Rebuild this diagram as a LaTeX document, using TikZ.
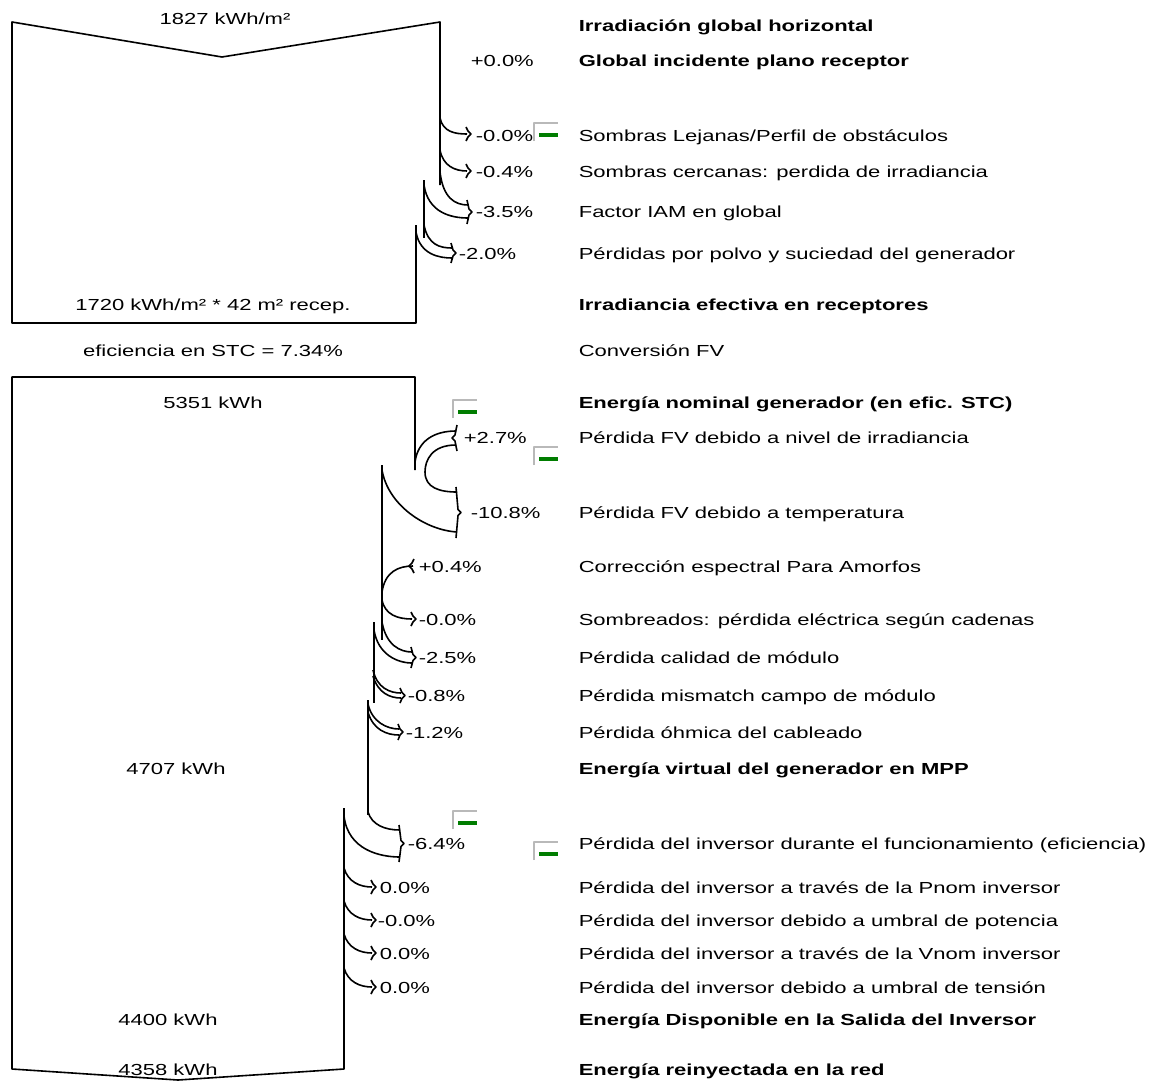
\documentclass[tikz,border=0pt]{standalone}
\usepackage{fontspec}
\setmainfont{Liberation Sans}[FakeStretch=1.375]
\usepackage{tikz}
\definecolor{btngreen}{RGB}{0,125,0}
\definecolor{btngray}{RGB}{185,185,185}

\newcommand{\losshead}[3]{% x, top, bottom
  \draw (#1-1,#2) -- (#1+1,{(#2+#3)/2-3}) -- (#1+4,{(#2+#3)/2}) -- (#1+1,{(#2+#3)/2+3}) -- (#1-1,#3);}
\newcommand{\gainhead}[3]{% x, top, bottom
  \draw (#1+1,#2) -- (#1-1,{(#2+#3)/2-3}) -- (#1-4,{(#2+#3)/2}) -- (#1-1,{(#2+#3)/2+3}) -- (#1+1,#3);}
\newcommand{\minusbtn}[2]{% top left corner
  \draw[btngray,line width=0.9pt] (#1,#2+18) -- (#1,#2) -- (#1+24,#2);
  \draw[btngreen,line width=1.6pt] (#1+5,#2+12) -- (#1+24,#2+12);}

\begin{document}
\begin{tikzpicture}[x=0.5pt,y=-0.5pt,
      line width=0.8pt, line join=round,
      every node/.style={font=\fontsize{8}{9}\selectfont, inner sep=0pt,
        text height=6pt, text depth=1.6pt, yshift=-1pt},
      desc/.style={anchor=west},
      head/.style={anchor=west, font=\fontsize{8}{9}\selectfont\bfseries},
      pct/.style={anchor=west}]
      \useasboundingbox (0,0) rectangle (1149,1081);

      % irradiance box
      \draw (440,185) -- (440,22) -- (222,57) -- (12,22) -- (12,323) -- (416,323) -- (416,225);
      \draw (424,180) -- (424,238);
      \draw (440,118) .. controls (443,132) and (455,134) .. (467,134);
      \losshead{467}{127}{141}
      \draw (440,150) .. controls (443,166) and (455,171) .. (467,171);
      \losshead{467}{164}{178}
      \draw (440,172) .. controls (443,198) and (455,205) .. (468,205);
      \draw (424,185) .. controls (428,212) and (450,218) .. (468,218);
      \losshead{468}{200}{224}
      \draw (424,225) .. controls (428,245) and (440,248) .. (452,248);
      \draw (416,232) .. controls (420,255) and (440,258) .. (452,258);
      \losshead{452}{243}{263}

      % energy box
      \draw (415,470) -- (415,377) -- (12,377) -- (12,1069) -- (178,1080) -- (344,1069) -- (344,808);
      \draw (382,465) -- (382,640);
      \draw (374,622) -- (374,703);
      \draw (368,700) -- (368,815);
      \draw (415,462) .. controls (418,440) and (435,431) .. (456,431);
      \draw (456,445) .. controls (432,445) and (425,460) .. (425,472)
        .. controls (425,488) and (440,492) .. (457,492);
      \gainhead{456}{425}{451}
      \draw (382,470) .. controls (388,505) and (425,530) .. (457,532);
      \losshead{457}{487}{538}
      \draw (382,592) .. controls (385,572) and (398,566) .. (413,566);
      \gainhead{413}{559}{573}
      \draw (382,600) .. controls (385,615) and (398,619) .. (412,619);
      \losshead{412}{612}{626}
      \draw (382,622) .. controls (386,645) and (400,652) .. (412,652);
      \draw (374,630) .. controls (378,655) and (398,663) .. (412,663);
      \losshead{412}{647}{668}
      \draw (373,670) .. controls (377,688) and (390,693) .. (401,693);
      \draw (373,676) .. controls (378,693) and (390,698) .. (401,698);
      \losshead{401}{688}{703}
      \draw (368,704) .. controls (372,722) and (387,729) .. (399,729);
      \draw (368,712) .. controls (373,730) and (387,735) .. (399,735);
      \losshead{399}{724}{740}
      \draw (368,812) .. controls (372,825) and (385,830) .. (400,830);
      \draw (344,816) .. controls (348,850) and (380,857) .. (400,857);
      \losshead{400}{825}{862}
      \foreach \y in {887,920,953,987}
        {\draw (344,\y-19) .. controls (348,\y-5) and (360,\y) .. (372,\y);
         \losshead{372}{\y-7}{\y+7}}

      % collapse buttons
      \minusbtn{534}{123}
      \minusbtn{453}{400}
      \minusbtn{534}{447}
      \minusbtn{453}{811}
      \minusbtn{534}{842}

      % values in the boxes
      \node (v1) at (225,18) {1827 kWh/m²};
      \node (v2) at (213,304) {1720 kWh/m² * 42 m² recep.};
      \node (v3) at (213,350) {eficiencia en STC = 7.34\%};
      \node (v4) at (213,402) {5351 kWh};
      \node (v5) at (176,768) {4707 kWh};
      \node (v6) at (168,1019) {4400 kWh};
      \node (v7) at (168,1069) {4358 kWh};

      % percentages
      \foreach \x/\y/\t [count=\i] in {470/60/{+0.0\%}, 475/135/{-0.0\%}, 475/171/{-0.4\%},
          475/211/{-3.5\%}, 458/253/{-2.0\%}, 463/437/{+2.7\%}, 470/512/{-10.8\%},
          418/566/{+0.4\%}, 418/619/{-0.0\%}, 418/657/{-2.5\%}, 407/695/{-0.8\%},
          405/732/{-1.2\%}, 407/843/{-6.4\%}, 379/887/{0.0\%}, 377/920/{-0.0\%},
          379/953/{0.0\%}, 379/987/{0.0\%}}
        \node[pct] (p\i) at (\x,\y) {\t};

      % step names
      \foreach \y/\t [count=\i] in {25/{Irradiación global horizontal},
          60/{Global incidente plano receptor}, 304/{Irradiancia efectiva en receptores},
          402/{Energía nominal generador (en efic. STC)},
          768/{Energía virtual del generador en MPP},
          1019/{Energía Disponible en la Salida del Inversor},
          1069/{Energía reinyectada en la red}}
        \node[head] (h\i) at (578,\y) {\t};
      \foreach \y/\t [count=\i] in {135/{Sombras Lejanas/Perfil de obstáculos},
          171/{Sombras cercanas: perdida de irradiancia}, 211/{Factor IAM en global},
          253/{Pérdidas por polvo y suciedad del generador}, 350/{Conversión FV},
          437/{Pérdida FV debido a nivel de irradiancia},
          512/{Pérdida FV debido a temperatura}, 566/{Corrección espectral Para Amorfos},
          619/{Sombreados: pérdida eléctrica según cadenas},
          657/{Pérdida calidad de módulo}, 695/{Pérdida mismatch campo de módulo},
          732/{Pérdida óhmica del cableado},
          843/{Pérdida del inversor durante el funcionamiento (eficiencia)},
          887/{Pérdida del inversor a través de la Pnom inversor},
          920/{Pérdida del inversor debido a umbral de potencia},
          953/{Pérdida del inversor a través de la Vnom inversor},
          987/{Pérdida del inversor debido a umbral de tensión}}
        \node[desc] (d\i) at (578,\y) {\t};
\end{tikzpicture}
\end{document}
